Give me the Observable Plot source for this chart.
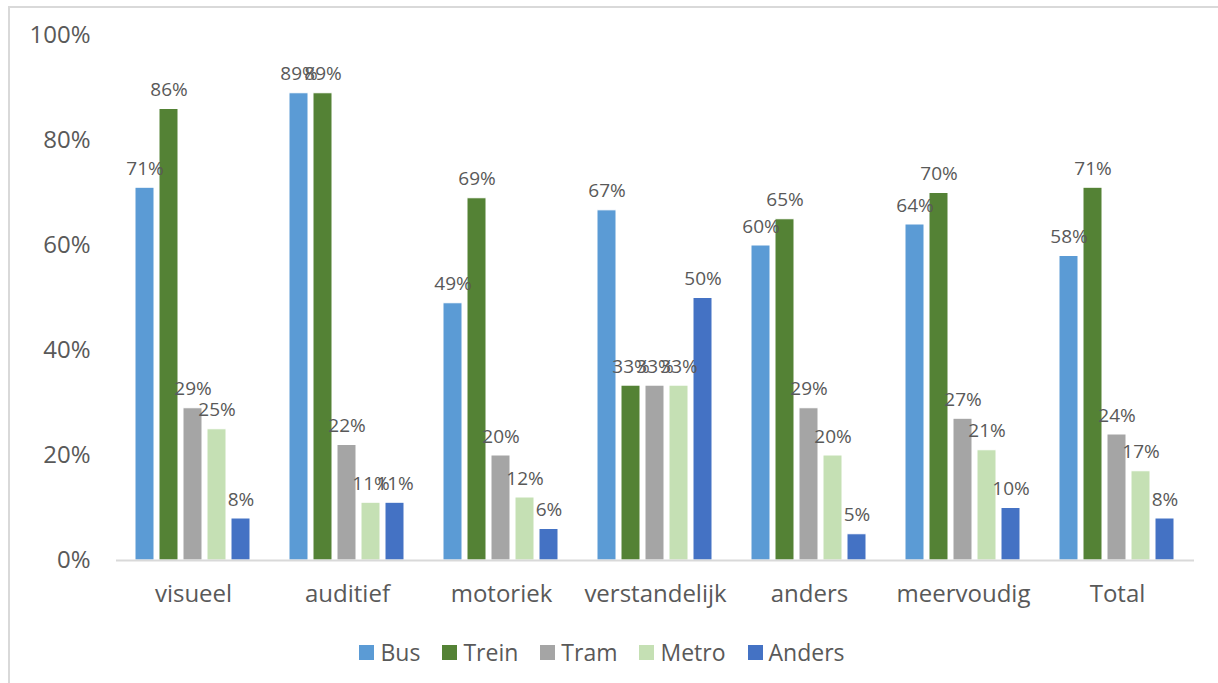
<!DOCTYPE html>
<html>
<head>
<meta charset="utf-8">
<script src="https://cdn.jsdelivr.net/npm/d3@7"></script>
<script src="https://cdn.jsdelivr.net/npm/@observablehq/plot@0.6"></script>
<style>
  html, body { margin: 0; padding: 0; background: #fff; }
  #wrap { position: relative; width: 1218px; height: 683px; overflow: hidden; font-family: "Open Sans", sans-serif; }
  #frame { position: absolute; left: 8px; top: 6px; width: 1230px; height: 700px; border-top: 2px solid #D9D9D9; border-left: 2px solid #D9D9D9; box-sizing: border-box; }
  #chart { position: absolute; left: 0; top: 0; }
  #legend { position: absolute; left: 0; top: 636px; width: 1204px; display: flex; justify-content: center; align-items: center; color: #595959; font-size: 23px; }
  .item { display: flex; align-items: center; margin: 0 11px; }
  .sw { width: 15px; height: 15px; margin-right: 6px; }
</style>
</head>
<body>
<div id="wrap">
  <div id="frame"></div>
  <div id="chart"></div>
  <div id="legend"></div>
</div>
<script>
const categories = ["visueel", "auditief", "motoriek", "verstandelijk", "anders", "meervoudig", "Total"];
const seriesNames = ["Bus", "Trein", "Tram", "Metro", "Anders"];
const colors = ["#5B9BD5", "#548235", "#A5A5A5", "#C5E0B4", "#4472C4"];
const bus    = [0.71, 0.89, 0.49, 0.667, 0.60, 0.64, 0.58];
const trein  = [0.86, 0.89, 0.69, 0.333, 0.65, 0.70, 0.71];
const tram   = [0.29, 0.22, 0.20, 0.333, 0.29, 0.27, 0.24];
const metro  = [0.25, 0.11, 0.12, 0.333, 0.20, 0.21, 0.17];
const anders = [0.08, 0.11, 0.06, 0.50, 0.05, 0.10, 0.08];
const yTicks = [0, 0.2, 0.4, 0.6, 0.8, 1.0];

const seriesValues = [bus, trein, tram, metro, anders];
const data = [];
categories.forEach((c, i) => {
  seriesNames.forEach((s, j) => {
    data.push({category: c, series: s, value: seriesValues[j][i]});
  });
});

const textColor = "#595959";
const fmt = d3.format(".0%");

const plot = Plot.plot({
  width: 1218,
  height: 620,
  marginLeft: 114,
  marginRight: 22,
  marginTop: 35,
  marginBottom: 60,
  style: {fontFamily: "Open Sans, sans-serif", color: textColor, background: "transparent"},
  fx: {domain: categories, padding: 0, axis: null, label: null},
  x: {domain: seriesNames, paddingInner: 0.2, paddingOuter: 0.8, axis: null},
  y: {domain: [0, 1], axis: null, label: null},
  color: {domain: seriesNames, range: colors},
  marks: [
    Plot.barY(data, {fx: "category", x: "series", y: "value", fill: "series", stroke: "white", strokeWidth: 1}),
    Plot.ruleY([0], {stroke: "#D9D9D9", strokeWidth: 2}),
    Plot.text(data, {fx: "category", x: "series", y: "value", text: d => fmt(d.value), dy: -13, lineAnchor: "bottom", fill: textColor, fontSize: 19}),
    Plot.axisY({ticks: yTicks, tickFormat: fmt, tickSize: 0, tickPadding: 26, fontSize: 24, label: null}),
    Plot.axisFx({domain: categories, anchor: "bottom", tickSize: 0, tickPadding: 24, fontSize: 24, label: null})
  ]
});
document.getElementById("chart").appendChild(plot);

const legend = document.getElementById("legend");
seriesNames.forEach((s, i) => {
  const item = document.createElement("div");
  item.className = "item";
  const sw = document.createElement("div");
  sw.className = "sw";
  sw.style.background = colors[i];
  const t = document.createElement("span");
  t.textContent = s;
  item.appendChild(sw);
  item.appendChild(t);
  legend.appendChild(item);
});
</script>
</body>
</html>
